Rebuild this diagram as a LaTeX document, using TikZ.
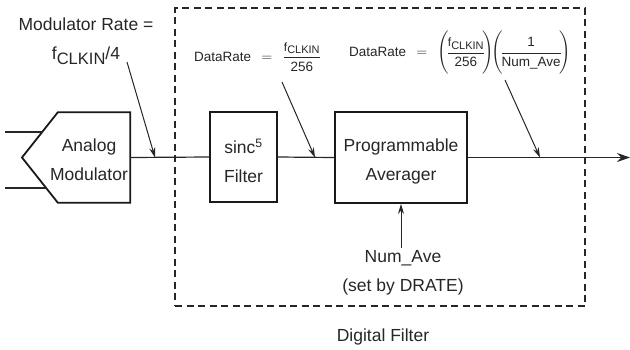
\documentclass[tikz,border=0pt]{standalone}
\usepackage{fontspec}
\setmainfont{Liberation Sans}
\usepackage{amsmath}
\usetikzlibrary{arrows.meta}
\newcommand{\fclk}{\text{\fontsize{12}{12}\selectfont f\raisebox{-2.5pt}{\fontsize{11}{11}\selectfont CLKIN}}}
\begin{document}
\begin{tikzpicture}[x=1pt,y=-1pt,
  lab/.style={font=\fontsize{17.5}{29}\selectfont, align=center, text=black!85, inner sep=0pt},
  blk/.style={draw=black!90, line width=1.8pt, inner sep=0pt},
  sig/.style={draw=black!85, line width=1.2pt},
  ptr/.style={draw=black!85, line width=1pt, -{Stealth[length=10pt,width=6pt]}},
  small/.style={font=\fontsize{13.5}{15}\selectfont, text=black!85, inner sep=0pt}]
\useasboundingbox (0,0) rectangle (630,349);
% digital filter frame
\node[draw=black!85, line width=1.3pt, dash pattern=on 7pt off 4.5pt,
      minimum width=410pt, minimum height=298pt, inner sep=0pt] (dfbox) at (380,157) {};
\node[lab] (dflab) at (383,337) {Digital Filter};
% modulator
\node[minimum width=72pt, minimum height=90pt, inner sep=0pt] (mod) at (94,157.5) {};
\coordinate (modtip) at (22,157.5);
\draw[blk] (mod.north west) -- (mod.north east) -- (mod.south east) -- (mod.south west) -- (modtip) -- cycle;
\node[lab] (modtxt) at (89,160) {Analog\\Modulator};
\coordinate (in1a) at (5,132);  \coordinate (in1b) at (42.5,132);
\coordinate (in2a) at (5,188);  \coordinate (in2b) at (47,188);
\draw[sig] (in1a) -- (in1b);
\draw[sig] (in2a) -- (in2b);
% blocks
\node[blk, minimum width=67pt, minimum height=90pt] (sinc) at (243.5,157) {};
\node[lab] (sinctxt) at (243.5,161) {sinc\textsuperscript{5}\\Filter};
\node[blk, minimum width=132pt, minimum height=91pt] (avg) at (401,157.5) {};
\node[lab] (avgtxt) at (401,161) {Programmable\\Averager};
% signal path
\coordinate (out) at (630,157.5);
\draw[sig] (mod.east) -- (sinc.west);
\draw[sig] (sinc.east) -- (avg.west);
\draw[sig, -{Stealth[length=13pt,width=9pt]}] (avg.east) -- (out);
% labels
\node[lab] (modrate) at (86,41) {Modulator Rate =\\f\raisebox{-5pt}{\fontsize{16.5}{16.5}\selectfont CLKIN}/4};
\node[small, anchor=west] (dr1) at (194,57) {DataRate $\;\,=\;\,\dfrac{\fclk}{\text{256}}$};
\node[small, anchor=west] (dr2) at (349,53) {DataRate $\;\,=\;\,\Biggl(\!\dfrac{\fclk}{\text{256}}\!\Biggr)\!\Biggl(\!\dfrac{\text{1}}{\text{Num\_Ave}}\!\Biggr)$};
\node[lab] (numave) at (403,272.5) {Num\_Ave\\(set by DRATE)};
% pointers
\coordinate (p1s) at (127,62);  \coordinate (p1) at (155,157.5);
\coordinate (p2s) at (282,82);  \coordinate (p2) at (315,157.5);
\coordinate (p3s) at (505,80);  \coordinate (p3) at (540,157.5);
\draw[ptr] (p1s) -- (p1);
\draw[ptr] (p2s) -- (p2);
\draw[ptr] (p3s) -- (p3);
\draw[ptr] (numave.north -| avg.south) ++(0,-2) -- (avg.south);
\end{tikzpicture}
\end{document}
